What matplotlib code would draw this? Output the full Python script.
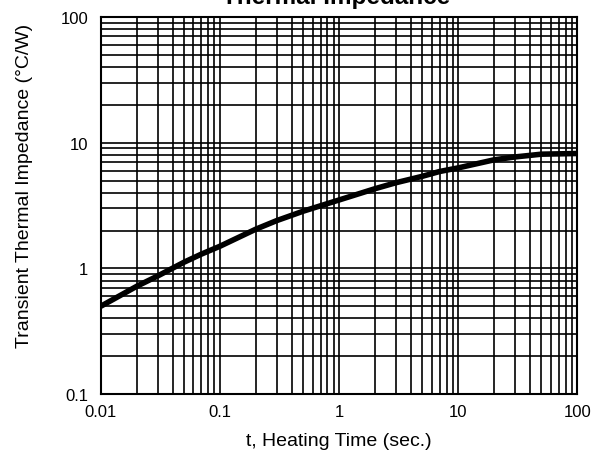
import numpy as np
from matplotlib import pyplot as plt
from matplotlib.ticker import LogLocator, FixedLocator, NullFormatter

plt.rcParams['font.family'] = ['Liberation Sans', 'DejaVu Sans']

# Curve
t_sec = [0.01, 0.02, 0.03, 0.05, 0.07, 0.1, 0.2, 0.3, 0.5, 1, 2, 3, 5, 7, 10, 20, 30, 50, 100]
z_th = [0.5, 0.72, 0.87, 1.12, 1.3, 1.5, 2.05, 2.4, 2.85, 3.5, 4.3, 4.8, 5.4, 5.9, 6.3, 7.3, 7.7, 8.1, 8.2]

x_ticks = [0.01, 0.1, 1, 10, 100]
x_labels = ['0.01', '0.1', '1', '10', '100']
y_ticks = [0.1, 1, 10, 100]
y_labels = ['0.1', '1', '10', '100']

fig = plt.figure(figsize=(6, 4.6), dpi=100)
ax = fig.add_axes([0.168, 0.141, 0.794, 0.820])

ax.set_xscale('log')
ax.set_yscale('log')
ax.set_xlim(0.01, 100)
ax.set_ylim(0.1, 100)

ax.xaxis.set_major_locator(FixedLocator(x_ticks))
ax.set_xticklabels(x_labels)
ax.yaxis.set_major_locator(FixedLocator(y_ticks))
ax.set_yticklabels(y_labels)
ax.xaxis.set_minor_locator(LogLocator(base=10, subs=np.arange(2, 10)))
ax.yaxis.set_minor_locator(LogLocator(base=10, subs=np.arange(2, 10)))
ax.xaxis.set_minor_formatter(NullFormatter())
ax.yaxis.set_minor_formatter(NullFormatter())

ax.grid(which='both', color='black', linewidth=1.2)
ax.tick_params(which='both', length=0, labelsize=12)
ax.tick_params(axis='x', pad=7)
ax.tick_params(axis='y', pad=9)
for s in ax.spines.values():
    s.set_linewidth(1.5)

ax.plot(t_sec, z_th, color='black', linewidth=4, solid_capstyle='butt',
        solid_joinstyle='round')

ax.set_xlabel('t, Heating Time (sec.)', fontsize=14)
ax.xaxis.set_label_coords(0.5, -0.10)
ax.set_ylabel('Transient Thermal Impedance (°C/W)', fontsize=14)
ax.yaxis.set_label_coords(-0.143, 0.555)
fig.text(0.56, 0.991, 'Thermal Impedance', ha='center', va='baseline',
         fontsize=17.5, fontweight='bold')

fig.savefig('out.png')
